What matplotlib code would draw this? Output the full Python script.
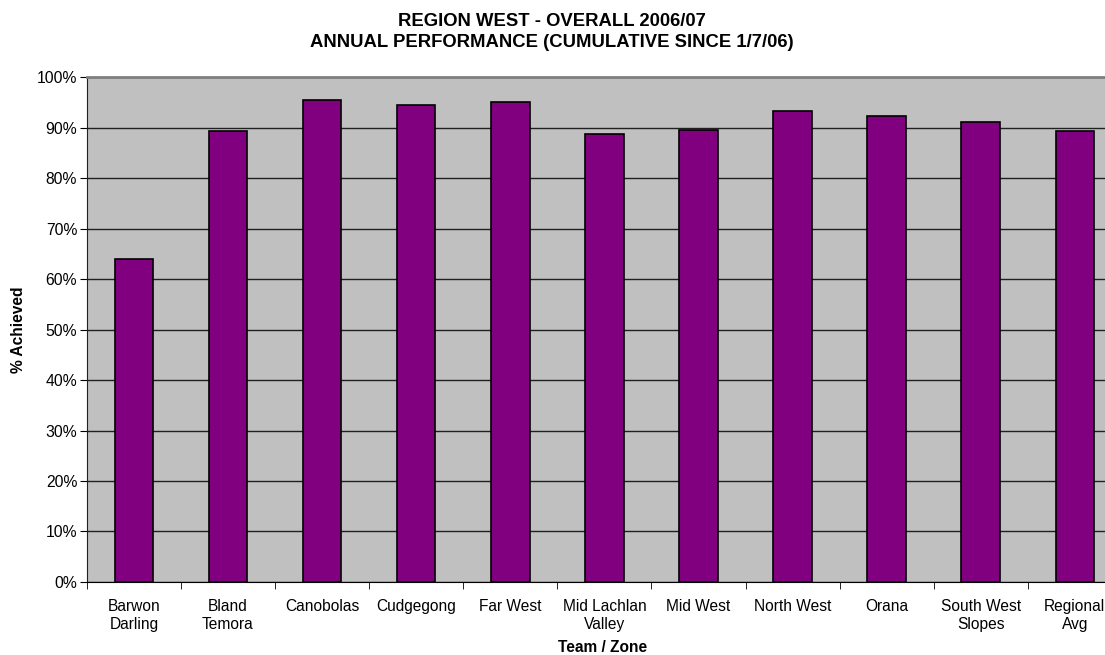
import matplotlib
matplotlib.use("Agg")
import matplotlib.pyplot as plt
import numpy as np
from matplotlib.ticker import FixedLocator, PercentFormatter

categories = ["Barwon\nDarling", "Bland\nTemora", "Canobolas", "Cudgegong", "Far West",
              "Mid Lachlan\nValley", "Mid West", "North West", "Orana", "South West\nSlopes",
              "Regional\nAvg"]
values = [64.0, 89.3, 95.5, 94.5, 95.1, 88.75, 89.6, 93.3, 92.4, 91.2, 89.4]
yticks = list(range(0, 101, 10))

plt.rcParams['font.family'] = ['Liberation Sans', 'DejaVu Sans']

fig = plt.figure(figsize=(11.05, 6.55), dpi=100)
ax = fig.add_axes([0.0786, 0.1115, 0.9367, 0.7705])
ax.set_facecolor('#C0C0C0')

x = np.arange(len(categories))
ax.bar(x, values, width=0.41, color='#800080', edgecolor='black', linewidth=1.2, zorder=3)

ax.set_xlim(-0.5, len(categories) - 0.5)
ax.set_ylim(0, 100)
ax.set_yticks(yticks)
ax.yaxis.set_major_formatter(PercentFormatter(decimals=0))
ax.yaxis.grid(True, color='#202020', linewidth=1.0, zorder=1)
ax.set_axisbelow(True)

ax.set_xticks(x)
ax.set_xticklabels(categories, fontsize=11.2, linespacing=1.25)
ax.xaxis.set_minor_locator(FixedLocator(np.arange(-0.5, len(categories), 1.0)))
ax.tick_params(axis='x', which='major', length=0, pad=12)
ax.tick_params(axis='x', which='minor', length=5, direction='out', color='black')
ax.tick_params(axis='y', which='major', length=5, direction='out', labelsize=11.3, pad=2)

ax.spines['right'].set_visible(False)
ax.spines['top'].set_color('#808080')
ax.spines['top'].set_linewidth(2)
ax.spines['left'].set_color('#202020')
ax.spines['bottom'].set_color('black')

fig.text(0.4995, 0.951, "REGION WEST - OVERALL 2006/07\nANNUAL PERFORMANCE (CUMULATIVE SINCE 1/7/06)",
         ha='center', va='center', fontsize=13.3, fontweight='bold', linespacing=1.3)
fig.text(0.0166, 0.496, "% Achieved", ha='center', va='center', rotation=90,
         fontsize=11.2, fontweight='bold')
fig.text(0.5457, 0.004, "Team / Zone", ha='center', va='baseline', fontsize=11.2, fontweight='bold')

fig.savefig("out.png", dpi=100)
